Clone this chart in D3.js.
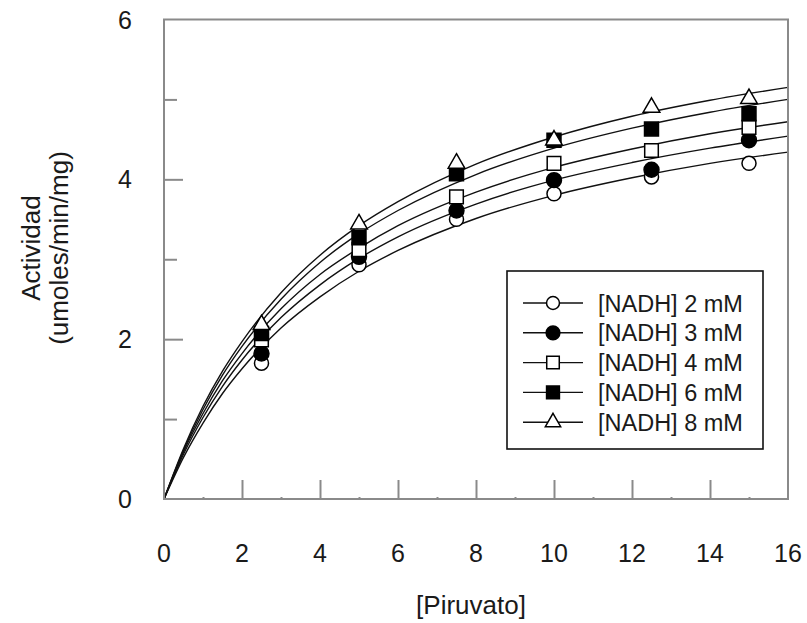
<!DOCTYPE html>
<html><head><meta charset="utf-8">
<script src="https://cdn.jsdelivr.net/npm/d3@7"></script>
<style>html,body{margin:0;padding:0;background:#fff;}svg{display:block;}</style>
</head><body>
<script>
// ---- data ----
const piruvato = [2.5, 5, 7.5, 10, 12.5, 15];
const nadh2 = [1.70, 2.93, 3.50, 3.82, 4.03, 4.20];
const nadh3 = [1.82, 3.03, 3.61, 3.99, 4.12, 4.49];
const nadh4 = [1.99, 3.12, 3.78, 4.20, 4.36, 4.65];
const nadh6 = [2.07, 3.27, 4.07, 4.49, 4.63, 4.82];
const nadh8 = [2.18, 3.44, 4.20, 4.49, 4.90, 5.01];
// fitted curves
const fitX = [0, 0.5, 1, 1.5, 2, 3, 4, 5, 6, 8, 10, 12, 14, 16];
const fit2 = [0, 0.52, 0.95, 1.32, 1.63, 2.14, 2.53, 2.85, 3.11, 3.51, 3.80, 4.02, 4.20, 4.34];
const fit3 = [0, 0.56, 1.02, 1.41, 1.74, 2.27, 2.68, 3.01, 3.28, 3.69, 3.99, 4.21, 4.39, 4.54];
const fit4 = [0, 0.59, 1.07, 1.48, 1.82, 2.38, 2.81, 3.14, 3.42, 3.84, 4.15, 4.38, 4.57, 4.72];
const fit6 = [0, 0.61, 1.12, 1.55, 1.91, 2.50, 2.96, 3.32, 3.61, 4.06, 4.39, 4.64, 4.84, 5.00];
const fit8 = [0, 0.63, 1.16, 1.60, 1.97, 2.58, 3.05, 3.42, 3.72, 4.19, 4.53, 4.79, 4.99, 5.15];
const seriesNames = ["[NADH] 2 mM", "[NADH] 3 mM", "[NADH] 4 mM", "[NADH] 6 mM", "[NADH] 8 mM"];
const xTicks = [0, 2, 4, 6, 8, 10, 12, 14, 16];
const xMinor = [1, 3, 5, 7, 9, 11, 13, 15];
const yTicks = [0, 2, 4, 6];
const yMinor = [1, 3, 5];
const xTitle = "[Piruvato]";
const yTitle1 = "Actividad";
const yTitle2 = "(umoles/min/mg)";

// ---- styles ----
const markers = [
  {type: d3.symbolCircle, size: 155, fill: "#fff"},
  {type: d3.symbolCircle, size: 175, fill: "#000"},
  {type: d3.symbolSquare, size: 185, fill: "#fff"},
  {type: d3.symbolSquare, size: 195, fill: "#000"},
  {type: d3.symbolTriangle, size: 120, fill: "#fff"}
];
const valuesAll = [nadh2, nadh3, nadh4, nadh6, nadh8];
const fitsAll = [fit2, fit3, fit4, fit6, fit8];

const W = 807, H = 623;
const pLeft = 164, pRight = 788, pTop = 19.5, pBottom = 499;
const axisColor = "#8a8a8a";
const textColor = "#1a1a1a";
const font = "Liberation Sans, Arial, sans-serif";

const svg = d3.select("body").append("svg").attr("width", W).attr("height", H);
const x = d3.scaleLinear().domain([0, 16]).range([pLeft, pRight]);
const y = d3.scaleLinear().domain([0, 6]).range([pBottom, pTop]);

// curves
const line = d3.line().x(d => x(d[0])).y(d => y(d[1])).curve(d3.curveMonotoneX);
fitsAll.forEach(f => {
  svg.append("path").datum(fitX.map((v, i) => [v, f[i]]))
    .attr("d", line).attr("fill", "none").attr("stroke", "#111").attr("stroke-width", 1.4);
});

// frame
svg.append("rect").attr("x", pLeft).attr("y", pTop).attr("width", pRight - pLeft).attr("height", pBottom - pTop)
  .attr("fill", "none").attr("stroke", axisColor).attr("stroke-width", 2);

// axes with inward ticks
const gx = svg.append("g").attr("transform", `translate(0,${pBottom})`)
  .call(d3.axisTop(x).tickValues(xTicks.slice(1, -1)).tickSize(19).tickFormat(""));
const gxm = svg.append("g").attr("transform", `translate(0,${pBottom})`)
  .call(d3.axisTop(x).tickValues(xMinor).tickSize(2).tickFormat(""));
const gy = svg.append("g").attr("transform", `translate(${pLeft},0)`)
  .call(d3.axisRight(y).tickValues(yTicks.slice(1, -1)).tickSize(19).tickFormat(""));
const gym = svg.append("g").attr("transform", `translate(${pLeft},0)`)
  .call(d3.axisRight(y).tickValues(yMinor).tickSize(13).tickFormat(""));
[gx, gxm, gy, gym].forEach(g => {
  g.select(".domain").remove();
  g.selectAll("line").attr("stroke", axisColor).attr("stroke-width", 2);
});

// tick labels
svg.append("g").selectAll("text").data(xTicks).join("text")
  .attr("x", d => x(d)).attr("y", 562).attr("text-anchor", "middle")
  .attr("font-family", font).attr("font-size", 25).attr("fill", textColor).text(d => d);
svg.append("g").selectAll("text").data(yTicks).join("text")
  .attr("x", 132).attr("y", d => y(d) + 9).attr("text-anchor", "end")
  .attr("font-family", font).attr("font-size", 25).attr("fill", textColor).text(d => d);

// titles
svg.append("text").attr("x", 471).attr("y", 614).attr("text-anchor", "middle")
  .attr("font-family", font).attr("font-size", 26).attr("fill", textColor).text(xTitle);
svg.append("text").attr("transform", "translate(40,248) rotate(-90)").attr("text-anchor", "middle")
  .attr("font-family", font).attr("font-size", 26).attr("fill", textColor).text(yTitle1);
svg.append("text").attr("transform", "translate(68,248) rotate(-90)").attr("text-anchor", "middle")
  .attr("font-family", font).attr("font-size", 26).attr("fill", textColor).text(yTitle2);

// data markers
valuesAll.forEach((vals, s) => {
  const m = markers[s];
  svg.append("g").selectAll("path").data(piruvato.map((p, i) => [p, vals[i]])).join("path")
    .attr("transform", d => `translate(${x(d[0])},${y(d[1])})`)
    .attr("d", d3.symbol().type(m.type).size(m.size))
    .attr("fill", m.fill).attr("stroke", "#000").attr("stroke-width", 1.5);
});

// legend
const lg = svg.append("g");
lg.append("rect").attr("x", 507).attr("y", 271).attr("width", 256).attr("height", 178)
  .attr("fill", "#fff").attr("stroke", "#111").attr("stroke-width", 1.6);
seriesNames.forEach((name, i) => {
  const yy = 303 + i * 29.8;
  const m = markers[i];
  lg.append("line").attr("x1", 523).attr("x2", 583).attr("y1", yy).attr("y2", yy)
    .attr("stroke", "#111").attr("stroke-width", 1.4);
  lg.append("path").attr("transform", `translate(553,${yy})`)
    .attr("d", d3.symbol().type(m.type).size(m.size * 0.85))
    .attr("fill", m.fill).attr("stroke", "#000").attr("stroke-width", 1.5);
  lg.append("text").attr("x", 598).attr("y", yy + 8.5)
    .attr("font-family", font).attr("font-size", 23.5).attr("fill", textColor).text(name);
});
</script>
</body></html>
